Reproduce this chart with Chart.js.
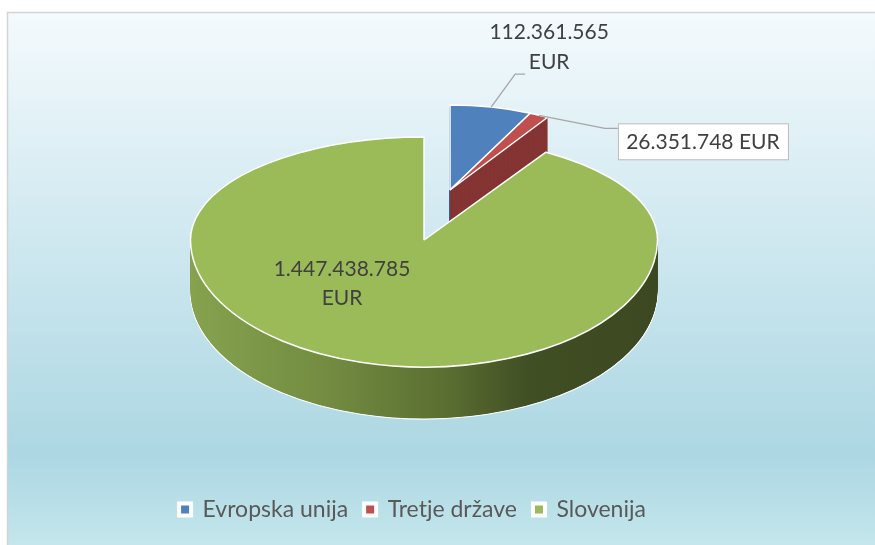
<!DOCTYPE html>
<html><head><meta charset="utf-8">
<script src="https://cdn.jsdelivr.net/npm/chart.js@4.4.1/dist/chart.umd.min.js"></script>
<style>html,body{margin:0;padding:0;background:#fff;}canvas{display:block;}</style>
</head><body>
<canvas id="c" width="875" height="545"></canvas>
<script>
// ---- data ----
const categories = ['Evropska unija', 'Tretje države', 'Slovenija'];
const values = [112361565, 26351748, 1447438785];
const valueUnit = 'EUR';
const topColors = ['#4f81bd', '#c0504d', '#9bbb59'];
const sideColors = ['#3b6190', '#843433', '#5f7535'];

// ---- layout / style ----
const W = 875, H = 545;
const CENTER = {x: 450, y: 190};                 // screen centre of pie (apex of small slices)
const BIG = {rx: 233.5, ryTop: 103, ryBot: 127, depth: 52};
const SMALL = {rx: 186.4, ry: 85, depth: 40};
const EXPLODE = {index: 2, dist: 0.41, rx: 233.5, ry: 126.7};
const LABEL_FONT = '21px Lato';
const LABEL_COLOR = '#404040';

const fmt = v => String(v).replace(/\B(?=(\d{3})+(?!\d))/g, '.');

function drawArcPiece(ctx, el, opts, sx, sy, cx, cy, clip) {
  ctx.save();
  if (clip) { ctx.beginPath(); ctx.rect(clip[0], clip[1], clip[2], clip[3]); ctx.clip(); }
  const base = ctx.getTransform();
  ctx.setTransform(base.multiply(new DOMMatrix([sx, 0, 0, sy, cx - sx * el.x, cy - sy * el.y])));
  const proxy = Object.create(el);
  proxy.options = Object.assign({}, el.options, opts);
  const orig = CanvasRenderingContext2D.prototype.stroke;
  ctx.stroke = function () { ctx.save(); ctx.setTransform(base); orig.apply(ctx, arguments); ctx.restore(); };
  el.draw.call(proxy, ctx);
  delete ctx.stroke;
  ctx.restore();
}

function sideGradient(ctx, el, sx, cx) {
  const x0 = el.x + (-BIG.rx) / sx;
  const x1 = el.x + (BIG.rx) / sx;
  const g = ctx.createLinearGradient(x0, 0, x1, 0);
  g.addColorStop(0, '#86a24e');
  g.addColorStop(0.3, '#728b41');
  g.addColorStop(0.55, '#5a6e31');
  g.addColorStop(0.72, '#414f24');
  g.addColorStop(1, '#3c4821');
  return g;
}

const pie3d = {
  id: 'pie3d',
  beforeDraw(chart) {
    const ctx = chart.ctx;
    ctx.save();
    ctx.fillStyle = '#ffffff';
    ctx.fillRect(0, 0, W, H);
    const grad = ctx.createLinearGradient(0, 13, 0, H);
    grad.addColorStop(0, '#f4fafd');
    grad.addColorStop(0.83, '#acd7e3');
    grad.addColorStop(1, '#c4e6ec');
    ctx.fillStyle = grad;
    ctx.fillRect(8, 13, W - 8, H - 13);
    ctx.strokeStyle = '#d4d4d4';
    ctx.lineWidth = 1.5;
    ctx.beginPath();
    ctx.moveTo(7.5, H); ctx.lineTo(7.5, 12.5); ctx.lineTo(W, 12.5);
    ctx.stroke();
    ctx.restore();
  },
  beforeDatasetsDraw(chart) {
    const ctx = chart.ctx;
    const els = chart.getDatasetMeta(0).data;
    const R = els[0].outerRadius;
    const big = els[EXPLODE.index];
    const mid = (big.startAngle + big.endAngle) / 2;
    const G = {
      x: Math.round(CENTER.x + EXPLODE.dist * Math.cos(mid) * EXPLODE.rx),
      y: Math.round(CENTER.y + EXPLODE.dist * Math.sin(mid) * EXPLODE.ry)
    };
    chart.$pie3d = {G, R};
    const ssx = SMALL.rx / R, ssy = SMALL.ry / R;
    // small slices: side walls (stacked layers)
    els.forEach((el, i) => {
      if (i === EXPLODE.index) return;
      for (let d = SMALL.depth; d >= 1; d--) {
        const last = d === SMALL.depth;
        drawArcPiece(ctx, el, {
          backgroundColor: sideColors[i],
          borderColor: last ? '#ffffff' : sideColors[i],
          borderWidth: 1
        }, ssx, ssy, CENTER.x, CENTER.y + d);
      }
    });
    // small slices: tops
    els.forEach((el, i) => {
      if (i === EXPLODE.index) return;
      drawArcPiece(ctx, el, {backgroundColor: topColors[i], borderWidth: 1.5}, ssx, ssy, CENTER.x, CENTER.y);
    });
    // big (exploded) slice
    const bsx = BIG.rx / R, top = BIG.ryTop / R, bot = BIG.ryBot / R;
    const grad = sideGradient(ctx, big, bsx, G.x);
    const drawBig = (opts, dy) => {
      const seam = G.y + dy;
      drawArcPiece(ctx, big, opts, bsx, top, G.x, seam, [0, 0, W, seam]);
      drawArcPiece(ctx, big, opts, bsx, bot, G.x, seam, [0, seam, W, H - seam]);
    };
    for (let d = BIG.depth; d >= 1; d--) {
      drawBig({backgroundColor: grad, borderWidth: d === BIG.depth ? 1.2 : 0}, d);
    }
    drawBig({backgroundColor: topColors[EXPLODE.index], borderWidth: 1.5}, 0);
    return false;
  },
  afterDraw(chart) {
    const p = chart.$pie3d;
    if (!p) return;
    const ctx = chart.ctx;
    const els = chart.getDatasetMeta(0).data;
    const pt = (i) => {
      const el = els[i];
      const m = (el.startAngle + el.endAngle) / 2;
      return {x: CENTER.x + SMALL.rx * Math.cos(m), y: CENTER.y + SMALL.ry * Math.sin(m)};
    };
    ctx.save();
    ctx.font = LABEL_FONT;
    ctx.textAlign = 'center';
    ctx.textBaseline = 'middle';
    ctx.strokeStyle = '#a6a6a6';
    ctx.lineWidth = 1.3;
    // label 0 (two lines, above)
    let a = pt(0);
    ctx.beginPath();
    ctx.moveTo(a.x, a.y); ctx.lineTo(a.x + 24, a.y - 33); ctx.lineTo(a.x + 34, a.y - 33);
    ctx.stroke();
    ctx.fillStyle = LABEL_COLOR;
    ctx.fillText(fmt(values[0]), a.x + 58, a.y - 75);
    ctx.fillText(valueUnit, a.x + 58, a.y - 45);
    // label 1 (boxed, right)
    a = pt(1);
    const bx = a.x + 79, by = a.y + 8, bw = 170, bh = 36;
    ctx.beginPath();
    ctx.moveTo(a.x, a.y); ctx.lineTo(a.x + 66, a.y + 13); ctx.lineTo(bx, a.y + 13);
    ctx.stroke();
    ctx.fillStyle = '#ffffff';
    ctx.fillRect(bx, by, bw, bh);
    ctx.strokeStyle = '#bcbcbc';
    ctx.lineWidth = 1;
    ctx.strokeRect(bx + 0.5, by + 0.5, bw, bh);
    ctx.fillStyle = LABEL_COLOR;
    ctx.fillText(fmt(values[1]) + ' ' + valueUnit, bx + bw / 2, by + bh / 2 + 1);
    // label 2 (inside big slice)
    ctx.fillText(fmt(values[2]), p.G.x - 82, 236 + 33);
    ctx.fillText(valueUnit, p.G.x - 82, 236 + 62);
    ctx.restore();
  }
};

new Chart(document.getElementById('c'), {
  type: 'pie',
  data: {
    labels: categories,
    datasets: [{
      data: values,
      backgroundColor: topColors,
      borderColor: '#ffffff',
      borderWidth: 1.5,
      hoverOffset: 0
    }]
  },
  options: {
    responsive: false,
    animation: false,
    events: [],
    layout: {padding: {right: 50, bottom: 14}},
    plugins: {
      tooltip: {enabled: false},
      legend: {
        position: 'bottom',
        align: 'center',
        labels: {
          font: {family: 'Lato', size: 23},
          color: '#595959',
          boxWidth: 12,
          boxHeight: 12,
          padding: 16,
          generateLabels: () => categories.map((c, i) => ({
            text: c, fillStyle: topColors[i], strokeStyle: '#ffffff', lineWidth: 4,
            fontColor: '#595959', hidden: false, index: i
          }))
        }
      }
    }
  },
  plugins: [pie3d]
});
</script>
</body></html>
